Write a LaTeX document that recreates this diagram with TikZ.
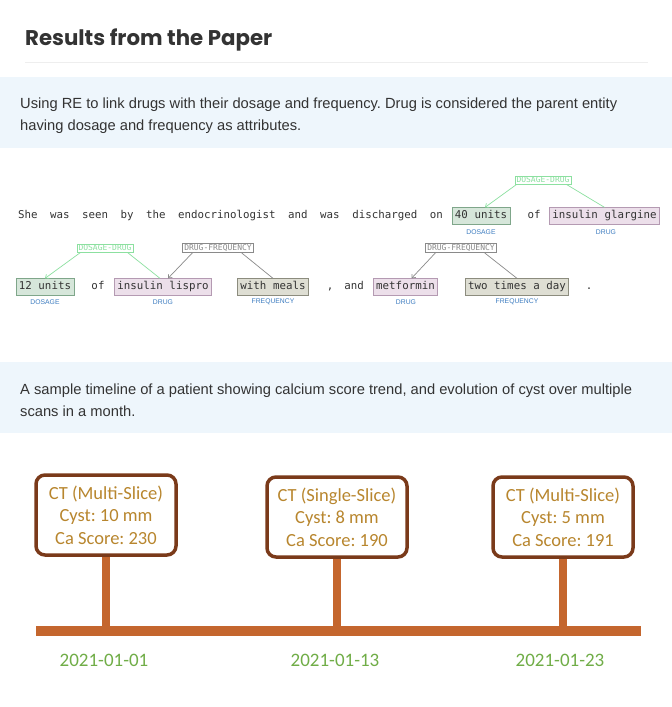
\documentclass[tikz,border=0pt]{standalone}
\usepackage{fontspec}
\setmainfont{Liberation Sans}
\newfontfamily\basfont{Poppins}
\newfontfamily\kodfont{DejaVu Sans Mono}
\newfontfamily\zamanfont{Carlito}
\usetikzlibrary{arrows.meta,positioning}
\definecolor{bantMavi}{HTML}{EEF6FC}
\definecolor{koyuGri}{HTML}{333333}
\definecolor{cizgiGri}{HTML}{EEEEEE}
\definecolor{dozYesil}{HTML}{D6E6DA}
\definecolor{dozKenar}{HTML}{7FA68A}
\definecolor{ilacPembe}{HTML}{ECDFEA}
\definecolor{ilacKenar}{HTML}{B49AB2}
\definecolor{siklikGri}{HTML}{DEDED3}
\definecolor{siklikKenar}{HTML}{8C8C7E}
\definecolor{etiketMavi}{HTML}{3C7CC0}
\definecolor{iliskiYesil}{HTML}{8CE0A0}
\definecolor{iliskiGri}{HTML}{8A8A8A}
\definecolor{kahve}{HTML}{7A3A1A}
\definecolor{altin}{HTML}{B8862E}
\definecolor{turuncu}{HTML}{C4662E}
\definecolor{tarihYesil}{HTML}{70AD47}
\frenchspacing

\begin{document}
\begin{tikzpicture}[x=1pt, y=-1pt, every node/.style={inner sep=0pt},
  yazi/.style={anchor=west,align=left,text=koyuGri,font=\fontsize{14.7}{22}\selectfont},
  kelime/.style={font=\kodfont\fontsize{10.8}{12}\selectfont,text=koyuGri,
                 text height=8pt,text depth=2.5pt,inner xsep=3pt,inner ysep=3pt},
  doz/.style={kelime,draw=dozKenar,fill=dozYesil,line width=0.8pt},
  ilac/.style={kelime,draw=ilacKenar,fill=ilacPembe,line width=0.8pt},
  siklik/.style={kelime,draw=siklikKenar,fill=siklikGri,line width=0.8pt},
  etiket/.style={text=etiketMavi,font=\fontsize{6.8}{8}\selectfont},
  iliski/.style={draw,fill=white,font=\kodfont\fontsize{8}{9}\selectfont,
                 inner xsep=1.5pt,inner ysep=1pt,line width=0.6pt},
  ok/.style={-{Straight Barb[length=3pt,width=5pt]},line width=0.7pt},
  olay/.style={draw=kahve,line width=3.5pt,rounded corners=9pt,fill=white,
               text=altin,font=\zamanfont\fontsize{18.5}{22.5}\selectfont,
               align=center,minimum width=140pt,minimum height=80pt},
  tarih/.style={text=tarihYesil,font=\zamanfont\fontsize{19}{22}\selectfont}]
\useasboundingbox (0,0) rectangle (672,707);
\fill[white] (0,0) rectangle (672,707);
\node[anchor=west,text=koyuGri,font=\basfont\bfseries\fontsize{21.3}{24}\selectfont] (baslik) at (25,40) {Results from the Paper};
\draw[cizgiGri,line width=1pt] (25,62) -- (648,62);
\fill[bantMavi] (0,77) rectangle (672,148);
\node[yazi] (aciklama1) at (20,116) {Using RE to link drugs with their dosage and frequency. Drug is considered the parent entity\\having dosage and frequency as attributes.};

\node[kelime,anchor=west,inner xsep=0pt] (cumle) at (18,216) {\spaceskip=12.5pt She was seen by the endocrinologist and was discharged on};
\node[doz] (t40) at (481,216) {40 units};
\node[kelime] (of1) at (534,216) {of};
\node[ilac] (tglar) at (604.5,216) {insulin glargine};
\node[etiket] at (481,232) {DOSAGE};
\node[etiket] at (606,232) {DRUG};
\node[iliski,draw=iliskiYesil,text=iliskiYesil] (r1) at (543,180) {DOSAGE-DRUG};
\draw[ok,iliskiYesil] ([xshift=2pt]r1.south west) -- ([xshift=4pt]t40.north);
\draw[iliskiYesil,line width=0.7pt] ([xshift=-5pt]r1.south east) -- (tglar.north);

\node[doz] (t12) at (45,287) {12 units};
\node[kelime] (of2) at (98,287) {of};
\node[ilac] (tlis) at (163,287) {insulin lispro};
\node[siklik] (tmeal) at (273,287) {with meals};
\node[kelime] (virgul) at (330,287) {,};
\node[kelime] (and) at (354,287) {and};
\node[ilac] (tmet) at (405.5,287) {metformin};
\node[siklik] (tday) at (517,287) {two times a day};
\node[kelime] (nokta) at (589,287) {.};
\node[etiket] at (45,302) {DOSAGE};
\node[etiket] at (163,302) {DRUG};
\node[etiket] at (273,302) {FREQUENCY};
\node[etiket] at (406,302) {DRUG};
\node[etiket] at (517,302) {FREQUENCY};
\node[iliski,draw=iliskiYesil,text=iliskiYesil] (r2) at (105,248) {DOSAGE-DRUG};
\node[iliski,draw=iliskiGri,text=iliskiGri] (r3) at (218,248) {DRUG-FREQUENCY};
\node[iliski,draw=iliskiGri,text=iliskiGri] (r4) at (461,248) {DRUG-FREQUENCY};
\draw[ok,iliskiYesil] ([xshift=4pt]r2.south west) -- (t12.north);
\draw[iliskiYesil,line width=0.7pt] ([xshift=-6pt]r2.south east) -- ([xshift=-3pt]tlis.north);
\draw[ok,iliskiGri] ([xshift=10pt]r3.south west) -- ([xshift=5pt]tlis.north);
\draw[iliskiGri,line width=0.7pt] ([xshift=-12pt]r3.south east) -- (tmeal.north);
\draw[ok,iliskiGri] ([xshift=10pt]r4.south west) -- ([xshift=6pt]tmet.north);
\draw[iliskiGri,line width=0.7pt] ([xshift=-12pt]r4.south east) -- (tday.north);

\fill[bantMavi] (0,362) rectangle (672,433);
\node[yazi] (aciklama2) at (20,400) {A sample timeline of a patient showing calcium score trend, and evolution of cyst over multiple\\scans in a month.};

\coordinate (eksenSol) at (36,631);
\coordinate (eksenSag) at (641,631);
\node[olay] (o1) at (106,515) {CT (Multi-Slice)\\Cyst: 10 mm\\Ca Score: 230};
\node[olay] (o2) at (337,517) {CT (Single-Slice)\\Cyst: 8 mm\\Ca Score: 190};
\node[olay] (o3) at (563,517) {CT (Multi-Slice)\\Cyst: 5 mm\\Ca Score: 191};
\foreach \o in {o1,o2,o3}
  \draw[turuncu,line width=8pt] (\o.south) -- (\o.south |- eksenSol);
\draw[turuncu,line width=10pt] (eksenSol) -- (eksenSag);
\node[tarih] (d1) at (104,660) {2021-01-01};
\node[tarih] (d2) at (335,660) {2021-01-13};
\node[tarih] (d3) at (560,660) {2021-01-23};
\end{tikzpicture}
\end{document}
